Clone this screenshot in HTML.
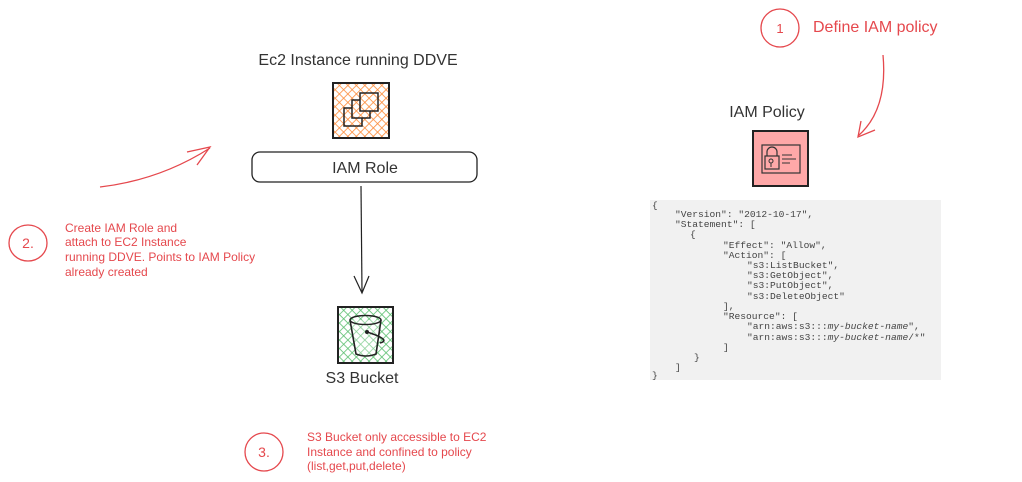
<!DOCTYPE html>
<html><head><meta charset="utf-8"><style>
html,body{margin:0;padding:0;background:#fff;}
svg{display:block;}
.h{font-family:"Liberation Sans",sans-serif;font-size:16px;fill:#333;}
.r{font-family:"Liberation Sans",sans-serif;font-size:12px;fill:#e5484d;}
.c{font-family:"Liberation Mono",monospace;font-size:9.6px;fill:#444;}
</style></head><body>
<svg width="1022" height="482" viewBox="0 0 1022 482" xmlns="http://www.w3.org/2000/svg">
<defs>
<pattern id="ho" width="6" height="6" patternUnits="userSpaceOnUse" patternTransform="rotate(45)">
<rect width="6" height="6" fill="#fff"/><line x1="0" y1="0" x2="0" y2="6" stroke="#fd8c3a" stroke-width="1.6"/><line x1="0" y1="0" x2="6" y2="0" stroke="#fd8c3a" stroke-width="1.6"/></pattern>
<pattern id="hg" width="6" height="6" patternUnits="userSpaceOnUse" patternTransform="rotate(45)">
<rect width="6" height="6" fill="#fff"/><line x1="0" y1="0" x2="0" y2="6" stroke="#5cbf70" stroke-width="1.6"/><line x1="0" y1="0" x2="6" y2="0" stroke="#5cbf70" stroke-width="1.6"/></pattern>
</defs>

<!-- EC2 -->
<text class="h" x="358" y="65" text-anchor="middle" font-size="15">Ec2 Instance running DDVE</text>
<rect x="333" y="83" width="56" height="55" fill="url(#ho)" stroke="#222" stroke-width="2"/>
<rect x="344" y="108" width="18" height="18" fill="none" stroke="#222" stroke-width="1.5"/>
<rect x="352" y="100" width="18" height="18" fill="url(#ho)" stroke="#222" stroke-width="1.5"/>
<rect x="360" y="93" width="18" height="18" fill="url(#ho)" stroke="#222" stroke-width="1.5"/>

<rect x="252" y="152" width="225" height="30" rx="8" fill="#fff" stroke="#222" stroke-width="1.3"/>
<text class="h" x="365" y="173" text-anchor="middle" font-size="15">IAM Role</text>

<line x1="361" y1="186" x2="362" y2="292" stroke="#222" stroke-width="1.2"/>
<path d="M354 276 L362 293 L369 276" fill="none" stroke="#222" stroke-width="1.2"/>

<!-- S3 -->
<rect x="338" y="307" width="55" height="56" fill="url(#hg)" stroke="#222" stroke-width="2"/>
<path d="M350 320 L356 354 Q366 358 376 354 L381 320" fill="#fff" fill-opacity="0.3" stroke="#222" stroke-width="1.6"/>
<ellipse cx="365.5" cy="320" rx="15.5" ry="4.5" fill="none" stroke="#222" stroke-width="1.5"/>
<path d="M367 332 Q392 340 380 343" fill="none" stroke="#222" stroke-width="1.5"/>
<circle cx="367" cy="332" r="2" fill="#222"/>
<text class="h" x="362" y="383" text-anchor="middle" font-size="15">S3 Bucket</text>

<!-- step 2 -->
<path d="M100 187 Q160 180 210 148" fill="none" stroke="#e5484d" stroke-width="1.3"/>
<path d="M187 152 L210 147 L197 165" fill="none" stroke="#e5484d" stroke-width="1.3"/>
<ellipse cx="28" cy="243" rx="19" ry="18" fill="none" stroke="#e5484d" stroke-width="1.3"/>
<text x="28" y="248" text-anchor="middle" font-family="Liberation Sans,sans-serif" font-size="14" fill="#e5484d">2.</text>
<text class="r" x="65" y="232">Create IAM Role and</text>
<text class="r" x="65" y="246">attach to EC2 Instance</text>
<text class="r" x="65" y="261">running DDVE. Points to IAM Policy</text>
<text class="r" x="65" y="276">already created</text>

<!-- step 3 -->
<ellipse cx="264" cy="452" rx="19" ry="19" fill="none" stroke="#e5484d" stroke-width="1.3"/>
<text x="264" y="457" text-anchor="middle" font-family="Liberation Sans,sans-serif" font-size="14" fill="#e5484d">3.</text>
<text class="r" x="307" y="441">S3 Bucket only accessible to EC2</text>
<text class="r" x="307" y="456">Instance and confined to policy</text>
<text class="r" x="307" y="470">(list,get,put,delete)</text>

<!-- step 1 -->
<ellipse cx="780" cy="28" rx="19" ry="19" fill="none" stroke="#e5484d" stroke-width="1.3"/>
<text x="780" y="33" text-anchor="middle" font-family="Liberation Sans,sans-serif" font-size="13" fill="#e5484d">1</text>
<text x="813" y="32" font-family="Liberation Sans,sans-serif" font-size="16" fill="#e5484d">Define IAM policy</text>
<path d="M883 55 Q888 110 858 136" fill="none" stroke="#e5484d" stroke-width="1.3"/>
<path d="M861 121 L858 137 L875 130" fill="none" stroke="#e5484d" stroke-width="1.3"/>

<!-- IAM policy -->
<text class="h" x="767" y="117" text-anchor="middle" font-size="15">IAM Policy</text>
<rect x="753" y="131" width="55" height="55" fill="#ffa8a8" stroke="#222" stroke-width="2"/>
<rect x="762" y="145" width="38" height="28" fill="none" stroke="#333" stroke-width="1.2"/>
<path d="M767 156 v-4 a5 5 0 0 1 10 0 v4" fill="none" stroke="#333" stroke-width="1.2"/>
<rect x="765" y="156" width="14" height="13" fill="none" stroke="#333" stroke-width="1.2"/>
<circle cx="771" cy="161" r="2" fill="none" stroke="#333"/>
<line x1="771" y1="163" x2="771" y2="167" stroke="#333"/>
<line x1="782" y1="155" x2="792" y2="155" stroke="#333"/>
<line x1="782" y1="159" x2="796" y2="159" stroke="#333"/>
<line x1="782" y1="163" x2="790" y2="163" stroke="#333"/>

<!-- code -->
<rect x="650" y="200" width="291" height="180" fill="#f1f1f1"/>
<g class="c">
<text x="652" y="208">{</text>
<text x="675" y="217">"Version": "2012-10-17",</text>
<text x="675" y="227">"Statement": [</text>
<text x="690" y="237">{</text>
<text x="723" y="248">"Effect": "Allow",</text>
<text x="723" y="258">"Action": [</text>
<text x="747" y="268">"s3:ListBucket",</text>
<text x="747" y="278">"s3:GetObject",</text>
<text x="747" y="288">"s3:PutObject",</text>
<text x="747" y="299">"s3:DeleteObject"</text>
<text x="723" y="309">],</text>
<text x="723" y="319">"Resource": [</text>
<text x="747" y="329">"arn:aws:s3:::<tspan font-style="italic">my-bucket-name</tspan>",</text>
<text x="747" y="340">"arn:aws:s3:::<tspan font-style="italic">my-bucket-name</tspan>/*"</text>
<text x="723" y="350">]</text>
<text x="694" y="360">}</text>
<text x="675" y="370">]</text>
<text x="652" y="378">}</text>
</g>
</svg>
</body></html>
